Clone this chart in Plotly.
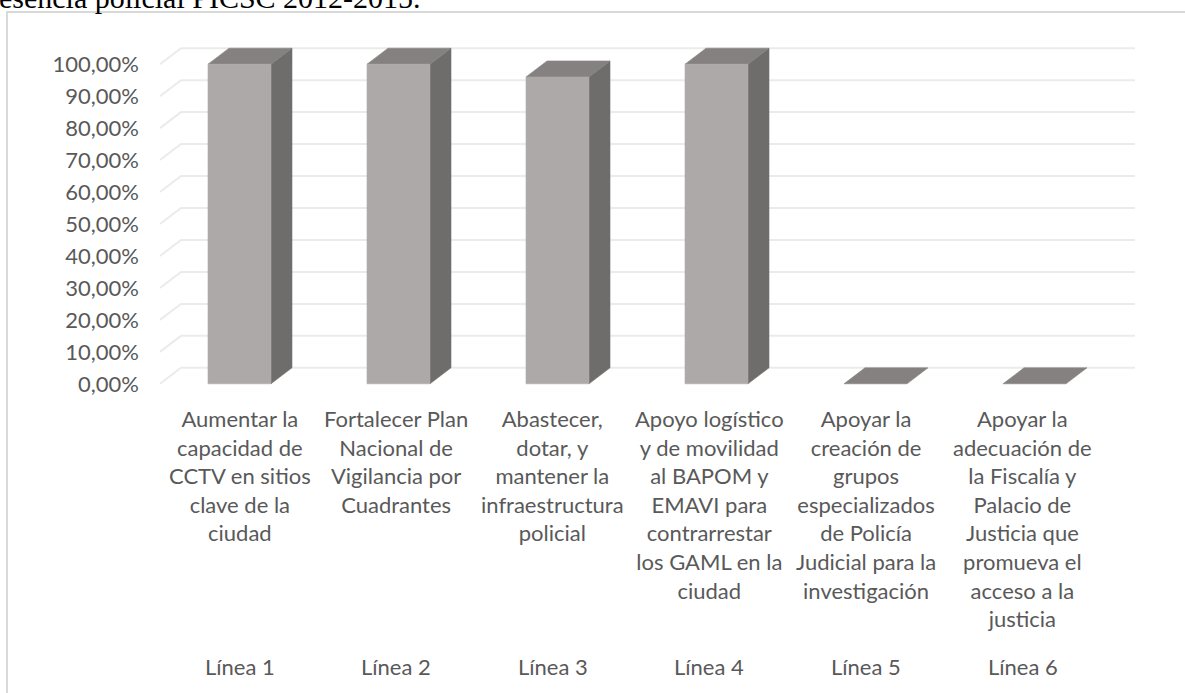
import plotly.graph_objects as go

# Data
categorias = [
    "Aumentar la<br>capacidad de<br>CCTV en sitios<br>clave de la<br>ciudad",
    "Fortalecer Plan<br>Nacional de<br>Vigilancia por<br>Cuadrantes",
    "Abastecer,<br>dotar, y<br>mantener la<br>infraestructura<br>policial",
    "Apoyo logístico<br>y de movilidad<br>al BAPOM y<br>EMAVI para<br>contrarrestar<br>los GAML en la<br>ciudad",
    "Apoyar la<br>creación de<br>grupos<br>especializados<br>de Policía<br>Judicial para la<br>investigación",
    "Apoyar la<br>adecuación de<br>la Fiscalía y<br>Palacio de<br>Justicia que<br>promueva el<br>acceso a la<br>justicia",
]
lineas = ["Línea 1", "Línea 2", "Línea 3", "Línea 4", "Línea 5", "Línea 6"]
avance = [100, 100, 96, 100, 0, 0]
y_ticks = [0, 10, 20, 30, 40, 50, 60, 70, 80, 90, 100]
y_ticktext = [f"{v:.2f}".replace(".", ",") + "%" for v in y_ticks]

# Layout geometry
W, H = 1185, 693
ML, MR, MT, MB = 160, 50, 45, 306
X_MIN, X_MAX = -0.5, 5.632
Y_MIN, Y_MAX = -1, 106
px_x = (W - ML - MR) / (X_MAX - X_MIN)
px_y = (H - MT - MB) / (Y_MAX - Y_MIN)
DX = 21 / px_x          # depth offset (x) of the 3D effect
DY = 16 / px_y          # depth offset (y) of the 3D effect
HALF = 0.198            # half width of a column front face
LABEL_STEP = 0.985      # spacing of the category labels

FRONT = "#ADA9A8"
TOP = "#858181"
SIDE = "#6F6C6C"
GRID = "#EBEBEB"
TEXT = "#595959"
FONT = "Lato, Carlito, sans-serif"


def paper_x(px):
    return (px - ML) / (W - ML - MR)


def paper_y(py):
    return (H - MB - py) / (H - MT - MB)


fig = go.Figure()

# Back-wall gridlines with slanted floor edge
gx, gy = [], []
n = len(avance)
for v in y_ticks:
    gx += [-0.5, -0.5 + DX, n - 0.5 + DX, None]
    gy += [v, v + DY, v + DY, None]
fig.add_trace(go.Scatter(x=gx, y=gy, mode="lines",
                         line=dict(color=GRID, width=2),
                         hoverinfo="skip", showlegend=False))


def face(xs, ys, color):
    fig.add_trace(go.Scatter(x=xs + [xs[0]], y=ys + [ys[0]], mode="lines",
                             fill="toself", fillcolor=color,
                             line=dict(color=color, width=0.6),
                             hoverinfo="skip", showlegend=False))


for i, v in enumerate(avance):
    x0, x1 = i - HALF, i + HALF
    # side face
    if v > 0:
        face([x1, x1 + DX, x1 + DX, x1], [0, DY, v + DY, v], SIDE)
    # top face
    face([x0, x1, x1 + DX, x0 + DX], [v, v, v + DY, v + DY], TOP)
    # front face
    if v > 0:
        face([x0, x1, x1, x0], [0, 0, v, v], FRONT)

annotations = []
for i, (cat, lin) in enumerate(zip(categorias, lineas)):
    xl = i * LABEL_STEP
    annotations.append(dict(x=xl, xref="x", y=paper_y(403), yref="paper",
                            text=cat, showarrow=False, xanchor="center",
                            yanchor="top", align="center",
                            font=dict(family=FONT, size=22, color=TEXT)))
    annotations.append(dict(x=xl, xref="x", y=paper_y(666), yref="paper",
                            text=lin, showarrow=False, xanchor="center",
                            yanchor="middle",
                            font=dict(family=FONT, size=22, color=TEXT)))

annotations.append(dict(x=paper_x(-3), xref="paper", y=paper_y(-3), yref="paper",
                        text="esencia policial PICSC 2012-2015.",
                        showarrow=False, xanchor="left", yanchor="middle",
                        font=dict(family="Liberation Serif, Times New Roman, serif",
                                  size=30, color="#000000")))

fig.update_layout(
    width=W, height=H,
    margin=dict(l=ML, r=MR, t=MT, b=MB),
    paper_bgcolor="white", plot_bgcolor="white",
    showlegend=False,
    annotations=annotations,
    shapes=[dict(type="rect", xref="paper", yref="paper",
                 x0=paper_x(7), x1=paper_x(1195), y0=paper_y(12), y1=paper_y(710),
                 line=dict(color="#D9D9D9", width=2), layer="below")],
    xaxis=dict(range=[X_MIN, X_MAX], showgrid=False, zeroline=False,
               showline=False, showticklabels=False, fixedrange=True),
    yaxis=dict(range=[Y_MIN, Y_MAX], showgrid=False, zeroline=False,
               showline=False, tickmode="array", tickvals=y_ticks,
               ticktext=y_ticktext, ticks="", ticklabelstandoff=20,
               tickfont=dict(family=FONT, size=22, color=TEXT),
               fixedrange=True),
)

fig.write_html("out.html")
